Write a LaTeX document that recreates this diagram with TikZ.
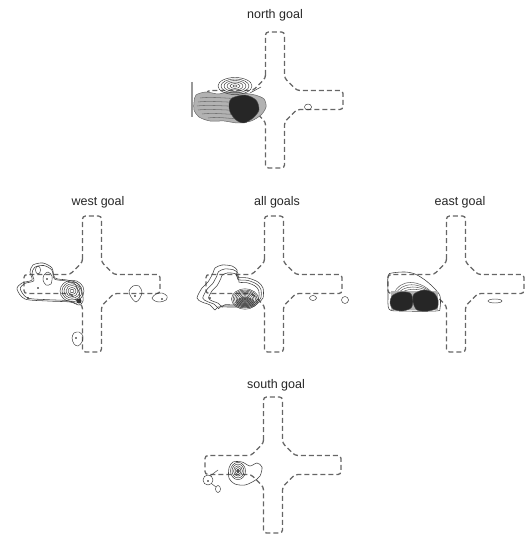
\documentclass[tikz,border=0pt]{standalone}
\usepackage{fontspec}
\setmainfont{Liberation Sans}
\usetikzlibrary{positioning}
\tikzset{
  mazeline/.style={draw=black!60, line width=1.3pt, dash pattern=on 5pt off 3pt, rounded corners=3pt},
  contour/.style={draw=black!75, line width=.55pt},
  ring/.style={draw=black!80, line width=.45pt},
  blob/.style={fill=black!85, draw=black!70, line width=.4pt},
  haze/.style={fill=black!30, draw=black!60, line width=.5pt},
  goal/.style={inner sep=0pt, font=\fontsize{12.5}{14}\selectfont, text=black!85},
  maze/.pic={
    \draw[mazeline] (-9.5,-22) -- (-9.5,-68) -- (9.5,-68) -- (9.5,-22) -- (22,-9.5)
      -- (68,-9.5) -- (68,9.5) -- (22,9.5) -- (9.5,22) -- (9.5,68) -- (-9.5,68)
      -- (-9.5,22) -- (-22,9.5) -- (-68,9.5) -- (-68,-9.5) -- (-22,-9.5) -- cycle;
  }
}

\begin{document}
\begin{tikzpicture}[x=1pt, y=-1pt]
  \useasboundingbox (0,0) rectangle (528,534);
  % maze centres
  \coordinate (N) at (275,100);
  \coordinate (W) at (92,284);
  \coordinate (A) at (274,284);
  \coordinate (E) at (456,284);
  \coordinate (S) at (273,465);
  \pic at (N) {maze};
  \pic at (W) {maze};
  \pic at (A) {maze};
  \pic at (E) {maze};
  \pic at (S) {maze};

  \node[goal, above=79pt of N] (Ngoal) {north goal};
  \node[goal, above=76pt of W, xshift=6pt] (Wgoal) {west goal};
  \node[goal, above=76pt of A, xshift=3pt] (Agoal) {all goals};
  \node[goal, above=76pt of E, xshift=4pt] (Egoal) {east goal};
  \node[goal, above=74pt of S, xshift=3pt] (Sgoal) {south goal};

  % north goal
  \draw[black!40, line width=1.4pt] (192,82) -- (192,117);
  \draw[haze] plot[smooth cycle] coordinates {(196,95) (206,92) (218,94) (228,92) (242,93) (255,95) (264,99) (266,107) (261,115) (251,121) (238,123) (224,121) (210,121) (199,117) (194,110) (194,102)};
  \foreach \yy/\xa/\xb in {98/200/250, 102/198/256, 106/197/258, 110/198/256, 114/202/250, 118/208/244}
    \draw[contour, black!55] (\xa,\yy) .. controls (\xa+15,\yy-2) and (\xb-15,\yy+2) .. (\xb,\yy);
  \draw[blob] plot[smooth cycle] coordinates {(232,98) (245,95) (256,100) (259,110) (253,118) (244,123) (236,120) (230,112) (229,104)};
  \foreach \r in {2,5,8,11,14,17}
    \draw[ring] (235,86) ellipse ({\r} and {\r*0.5});
  \draw[contour] (250,93) -- (261,87);
  \draw[ring] (308,107) ellipse (3.5 and 3);

  % west goal
  \foreach \s in {1,.9}
    \draw[contour, scale around={\s:(50,288)}] plot[smooth cycle] coordinates {(17,289) (22,283) (32,280) (30,272) (33,265) (43,263) (52,268) (55,278) (67,280) (77,283) (82,292) (83,301) (79,305) (70,302) (48,301) (25,299)};
  \foreach \r in {2,4,...,12}
    \draw[ring] (72,291) ellipse ({\r} and {\r*0.9});
  \fill[black!80] (79,301) circle (2.5);
  \draw[ring] plot[smooth cycle] coordinates {(44,275) (48,272) (52,276) (51,284) (46,285) (43,280)};
  \fill (47,279) circle (.8);
  \draw[ring] (38,270) ellipse (2.5 and 4);
  \fill (38,288) circle (.8);
  \fill (28,298) circle (.8);
  \draw[ring] plot[smooth cycle] coordinates {(72,338) (74,333) (79,332) (83,336) (82,342) (78,346) (74,344)};
  \fill (76,338) circle (.8);
  \draw[ring] plot[smooth cycle] coordinates {(129,291) (133,286) (139,286) (142,292) (140,298) (136,302) (131,297)};
  \fill (135,296) circle (.8);
  \draw[ring] plot[smooth cycle] coordinates {(152,298) (156,294) (162,293) (167,296) (166,300) (160,302) (155,301)};
  \fill (162,299) circle (.8);

  % all goals
  \foreach \s in {1,.88,.76}
    \draw[contour, scale around={\s:(245,298)}] plot[smooth cycle] coordinates {(197,298) (202,288) (208,282) (213,273) (215,268) (222,265) (232,266) (237,270) (237,277) (248,278) (258,282) (263,288) (263,298) (258,303) (252,307) (238,307) (228,307) (218,307) (215,310) (210,305) (202,302)};
  \fill[black!45] (245,302) ellipse (9 and 5);
  \foreach \r in {1.5,3,...,13.5}
    \draw[ring] (245,299) ellipse ({\r} and {\r*0.75});
  \fill (210,298) circle (.8);
  \draw[ring] (313,298) ellipse (3.5 and 2.5);
  \draw[ring] (345,300) circle (3.5);

  % east goal
  \draw[contour] plot[smooth cycle] coordinates {(388,276) (392,273) (405,272) (415,274) (425,280) (434,288) (440,296) (440,308) (436,311) (400,311) (389,309) (388,295)};
  \foreach \i in {0,1,2,3}
    \draw[contour, black!60] (394+2*\i,294) .. controls (398+2*\i,280+3*\i) and (420,276+3*\i) .. (437,298);
  \fill[black!30] (391,291) rectangle (438,310);
  \draw[blob] plot[smooth cycle] coordinates {(392,296) (400,292) (410,293) (413,300) (411,308) (402,311) (393,309) (390,303)};
  \draw[blob] plot[smooth cycle] coordinates {(414,294) (424,290) (434,293) (438,300) (437,308) (428,311) (417,310) (413,302)};
  \draw[ring] (495,301) ellipse (7 and 2);

  % south goal
  \draw[contour] plot[smooth cycle] coordinates {(229,468) (233,462) (242,462) (250,466) (257,463) (262,467) (260,476) (254,481) (245,485) (235,484) (229,478)};
  \foreach \r in {1.5,3,4.5,6,7.5}
    \draw[ring] (238,471) ellipse ({\r} and {\r*1.15});
  \fill[black!70] (238,471) ellipse (1.5 and 2);
  \draw[ring] (208,480) circle (5);
  \fill (208,481) circle (.8);
  \draw[ring] (210,476) -- (218,470);
  \draw[ring] (212,484) -- (216,487);
  \draw[ring] (218,489) ellipse (2.5 and 3.5);
\end{tikzpicture}
\end{document}
